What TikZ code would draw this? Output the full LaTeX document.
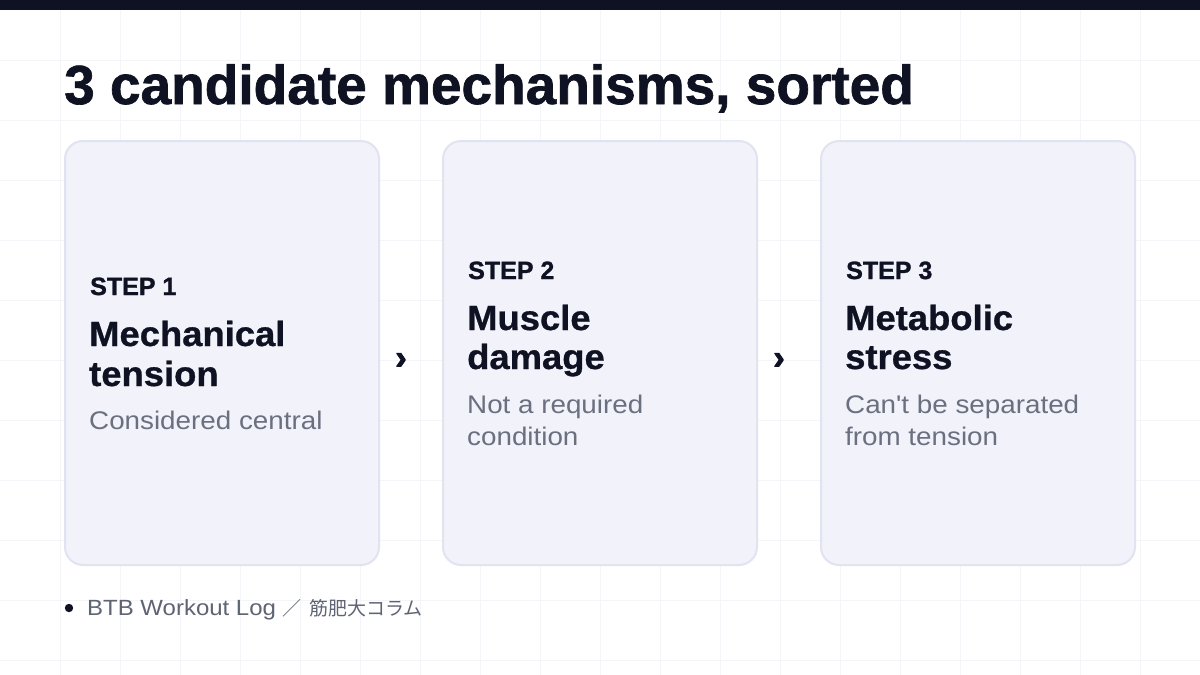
\documentclass[tikz,border=0pt]{standalone}
\usepackage{fontspec}
\setmainfont{Liberation Sans}
\newfontfamily\widefont{Liberation Sans}[FakeStretch=1.09]
\newfontfamily\headfont{Liberation Sans}[FakeStretch=1.04, BoldFeatures={FakeBold=0.8}]
\newfontfamily\titlefont{Liberation Sans}[BoldFeatures={FakeBold=1.2}]
\newfontfamily\chevfont{Liberation Sans}[BoldFeatures={FakeBold=2.5}]
\newfontfamily\cjk{Noto Sans CJK JP}
\definecolor{ink}{HTML}{0F1222}
\definecolor{cardfill}{HTML}{F1F2FA}
\definecolor{cardline}{HTML}{E1E4F0}
\definecolor{muted}{HTML}{6B7080}
\definecolor{foot}{HTML}{5E6474}
\definecolor{gridc}{HTML}{F4F5F8}
\tikzset{
  card/.style={draw=cardline, line width=2pt, fill=cardfill, rounded corners=18pt},
  steplabel/.style={anchor=base west, inner sep=0pt, text=ink, font=\titlefont\bfseries\fontsize{25}{30}\selectfont},
  headline/.style={anchor=base west, inner sep=0pt, text=ink, font=\headfont\bfseries\fontsize{35}{40}\selectfont},
  subline/.style={anchor=base west, inner sep=0pt, text=muted, font=\widefont\fontsize{25.5}{32}\selectfont},
  chev/.style={inner sep=0pt, text=ink, font=\chevfont\bfseries\fontsize{34}{34}\selectfont},
  footlabel/.style={inner sep=0pt, text=foot},
}
\begin{document}
\begin{tikzpicture}[x=1pt,y=-1pt]
\useasboundingbox (0,0) rectangle (1200,675);
\fill[white] (0,0) rectangle (1200,675);
\foreach \gx in {60,120,...,1140} \draw[gridc, line width=1pt] (\gx,0) -- (\gx,675);
\foreach \gy in {60,120,...,660} \draw[gridc, line width=1pt] (0,\gy) -- (1200,\gy);
\fill[ink] (0,0) rectangle (1200,10);
\node[anchor=base west, inner sep=0pt, text=ink, font=\titlefont\bfseries\fontsize{55}{60}\selectfont] (title) at (64,104) {3 candidate mechanisms, sorted};
% cards
\draw[card] (65,141) rectangle (379,565);
\draw[card] (443,141) rectangle (757,565);
\draw[card] (821,141) rectangle (1135,565);
% card 1
\node[steplabel] (s1) at (90,295) {STEP 1};
\node[headline] (h1a) at (89,346) {Mechanical};
\node[headline] (h1b) at (89,386) {tension};
\node[subline] (d1) at (89,429) {Considered central};
% card 2
\node[steplabel] (s2) at (468,279) {STEP 2};
\node[headline] (h2a) at (467,330) {Muscle};
\node[headline] (h2b) at (467,369) {damage};
\node[subline] (d2a) at (467,413) {Not a required};
\node[subline] (d2b) at (467,445) {condition};
% card 3
\node[steplabel] (s3) at (846,279) {STEP 3};
\node[headline] (h3a) at (845,330) {Metabolic};
\node[headline] (h3b) at (845,369) {stress};
\node[subline] (d3a) at (845,413) {Can\char"27 t be separated};
\node[subline] (d3b) at (845,445) {from tension};
% chevrons
\node[chev] (c1) at (401,361) {›};
\node[chev] (c2) at (779,361) {›};
% footer
\fill[ink] (69,608) circle (4.2);
\node[footlabel, anchor=base west, font=\widefont\fontsize{22}{26}\selectfont] (foot1) at (87,615) {BTB Workout Log};
\node[footlabel, anchor=base, font=\cjk\fontsize{19}{24}\selectfont] (foot2) at (292,615) {／};
\node[footlabel, anchor=base west, font=\cjk\fontsize{19}{24}\selectfont] (foot3) at (309,615) {筋肥大コラム};
\end{tikzpicture}
\end{document}
